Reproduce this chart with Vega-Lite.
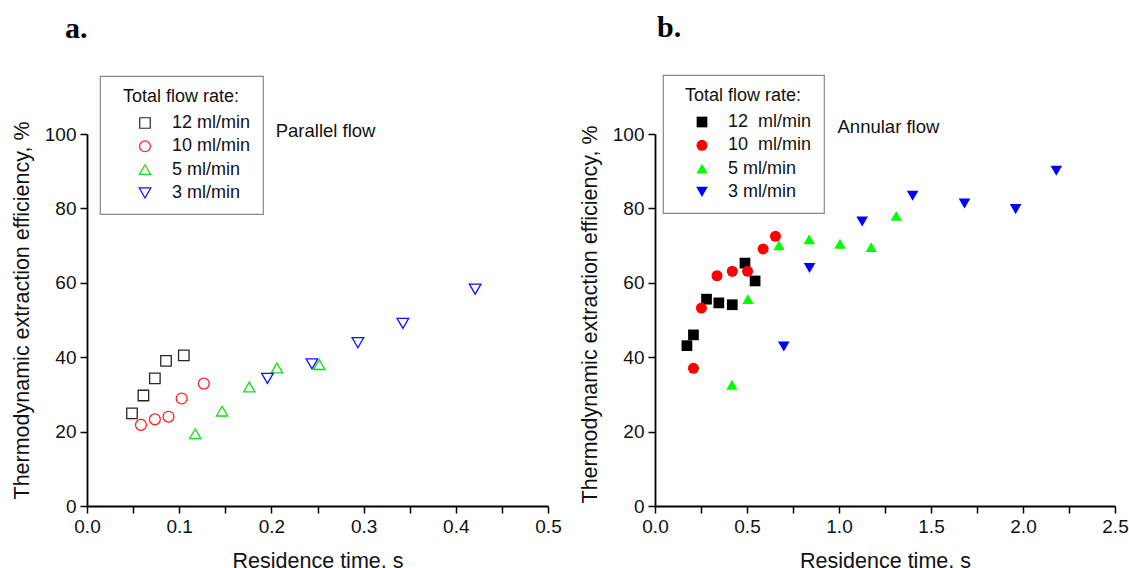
{
  "$schema": "https://vega.github.io/schema/vega-lite/v6.json",
  "padding": {"left": 11, "top": 13, "right": 0, "bottom": 0},
  "background": "white",
  "spacing": 17,
  "config": {
    "view": {"stroke": null},
    "font": "Liberation Sans",
    "axis": {
      "domainColor": "#000000", "domainWidth": 1.8,
      "tickColor": "#000000", "tickWidth": 1.5, "tickSize": 7,
      "labelFont": "Liberation Sans", "labelFontSize": 19, "labelColor": "#111111",
      "labelPadding": 4, "labelFlush": false, "labelOverlap": false, "labelBound": false,
      "titleFont": "Liberation Sans", "titleFontSize": 21.5, "titleFontWeight": "normal", "titleColor": "#111111",
      "grid": false
    },
    "legend": {
      "orient": "none", "strokeColor": "#888888", "strokeWidth": 1.2, "padding": 12,
      "titleFont": "Liberation Sans", "titleFontSize": 18, "titleFontWeight": "normal", "titleColor": "#111111",
      "titleAnchor": "middle",
      "labelFont": "Liberation Sans", "labelFontSize": 18, "labelColor": "#111111",
      "rowPadding": 5.3, "titlePadding": 8, "symbolStrokeWidth": 1.2, "labelLimit": 300
    },
    "title": {"font": "Liberation Serif", "fontSize": 30, "fontWeight": "bold", "color": "#000000", "anchor": "start", "frame": "group", "baseline": "alphabetic", "offset": 31}
  },
  "resolve": {
    "scale": {"x": "independent", "y": "independent", "color": "independent", "shape": "independent", "size": "independent"},
    "legend": {"color": "independent", "shape": "independent", "size": "independent"}
  },
  "datasets": {
    "parallel": [
      {"time": 0.0488, "eff": 24.9, "rate": "12 ml/min"},
      {"time": 0.0612, "eff": 29.7, "rate": "12 ml/min"},
      {"time": 0.0736, "eff": 34.3, "rate": "12 ml/min"},
      {"time": 0.0857, "eff": 39.0, "rate": "12 ml/min"},
      {"time": 0.105, "eff": 40.5, "rate": "12 ml/min"},
      {"time": 0.0585, "eff": 21.8, "rate": "10 ml/min"},
      {"time": 0.0736, "eff": 23.3, "rate": "10 ml/min"},
      {"time": 0.0884, "eff": 24.0, "rate": "10 ml/min"},
      {"time": 0.1027, "eff": 28.9, "rate": "10 ml/min"},
      {"time": 0.1267, "eff": 32.9, "rate": "10 ml/min"},
      {"time": 0.1174, "eff": 19.4, "rate": "5 ml/min"},
      {"time": 0.1465, "eff": 25.5, "rate": "5 ml/min"},
      {"time": 0.176, "eff": 32.0, "rate": "5 ml/min"},
      {"time": 0.206, "eff": 37.1, "rate": "5 ml/min"},
      {"time": 0.252, "eff": 38.0, "rate": "5 ml/min"},
      {"time": 0.1957, "eff": 34.3, "rate": "3 ml/min"},
      {"time": 0.244, "eff": 38.2, "rate": "3 ml/min"},
      {"time": 0.2938, "eff": 43.9, "rate": "3 ml/min"},
      {"time": 0.3426, "eff": 49.1, "rate": "3 ml/min"},
      {"time": 0.421, "eff": 58.3, "rate": "3 ml/min"}
    ],
    "annular": [
      {"time": 0.1735, "eff": 43.1, "rate": "12\u00a0 ml/min"},
      {"time": 0.209, "eff": 46.0, "rate": "12\u00a0 ml/min"},
      {"time": 0.28, "eff": 55.6, "rate": "12\u00a0 ml/min"},
      {"time": 0.347, "eff": 54.6, "rate": "12\u00a0 ml/min"},
      {"time": 0.42, "eff": 54.1, "rate": "12\u00a0 ml/min"},
      {"time": 0.489, "eff": 65.3, "rate": "12\u00a0 ml/min"},
      {"time": 0.544, "eff": 60.5, "rate": "12\u00a0 ml/min"},
      {"time": 0.209, "eff": 37.0, "rate": "10\u00a0 ml/min"},
      {"time": 0.2524, "eff": 53.2, "rate": "10\u00a0 ml/min"},
      {"time": 0.337, "eff": 61.9, "rate": "10\u00a0 ml/min"},
      {"time": 0.42, "eff": 63.1, "rate": "10\u00a0 ml/min"},
      {"time": 0.503, "eff": 63.1, "rate": "10\u00a0 ml/min"},
      {"time": 0.5875, "eff": 69.1, "rate": "10\u00a0 ml/min"},
      {"time": 0.6546, "eff": 72.5, "rate": "10\u00a0 ml/min"},
      {"time": 0.418, "eff": 32.6, "rate": "5 ml/min"},
      {"time": 0.505, "eff": 55.6, "rate": "5 ml/min"},
      {"time": 0.674, "eff": 70.1, "rate": "5 ml/min"},
      {"time": 0.838, "eff": 71.7, "rate": "5 ml/min"},
      {"time": 1.0055, "eff": 70.5, "rate": "5 ml/min"},
      {"time": 1.175, "eff": 69.6, "rate": "5 ml/min"},
      {"time": 1.311, "eff": 78.0, "rate": "5 ml/min"},
      {"time": 0.7, "eff": 42.9, "rate": "3 ml/min"},
      {"time": 0.84, "eff": 64.0, "rate": "3 ml/min"},
      {"time": 1.126, "eff": 76.5, "rate": "3 ml/min"},
      {"time": 1.4, "eff": 83.4, "rate": "3 ml/min"},
      {"time": 1.682, "eff": 81.3, "rate": "3 ml/min"},
      {"time": 1.96, "eff": 79.8, "rate": "3 ml/min"},
      {"time": 2.181, "eff": 90.1, "rate": "3 ml/min"}
    ]
  },
  "hconcat": [
    {
      "width": 461, "height": 372,
      "title": {"text": "a.", "dx": -22},
      "layer": [
        {
          "data": {"name": "parallel"},
          "mark": {"type": "point", "filled": false, "strokeWidth": 1.3, "opacity": 1},
          "encoding": {
            "x": {"field": "time", "type": "quantitative", "title": "Residence time, s",
              "scale": {"domain": [0, 0.5], "nice": false, "zero": false},
              "axis": {"values": [0, 0.05, 0.1, 0.15, 0.2, 0.25, 0.3, 0.35, 0.4, 0.45, 0.5],
                "labelExpr": "round(datum.value*100) % 10 == 0 ? format(datum.value, '.1f') : ''", "titlePadding": 14}},
            "y": {"field": "eff", "type": "quantitative", "title": "Thermodynamic extraction efficiency, %",
              "scale": {"domain": [0, 100], "nice": false},
              "axis": {"values": [0, 10, 20, 30, 40, 50, 60, 70, 80, 90, 100],
                "labelExpr": "datum.value % 20 == 0 ? datum.label : ''", "titlePadding": 11, "titleY": 176}},
            "color": {"field": "rate", "type": "nominal", "title": "Total flow rate:",
              "scale": {"domain": ["12 ml/min", "10 ml/min", "5 ml/min", "3 ml/min"], "range": ["#262626", "#ff2020", "#10e010", "#1010ff"]},
              "legend": {"legendX": 13, "legendY": -58, "symbolOffset": 24, "labelOffset": 18}},
            "shape": {"field": "rate", "type": "nominal", "title": "Total flow rate:",
              "scale": {"domain": ["12 ml/min", "10 ml/min", "5 ml/min", "3 ml/min"], "range": ["square", "circle", "triangle-up", "triangle-down"]}},
            "size": {"field": "rate", "type": "nominal", "title": "Total flow rate:",
              "scale": {"domain": ["12 ml/min", "10 ml/min", "5 ml/min", "3 ml/min"], "range": [110, 135, 185, 185]}}
          }
        },
        {
          "data": {"values": [{}]},
          "mark": {"type": "text", "text": "Parallel flow", "align": "left", "baseline": "middle", "fontSize": 18.5, "color": "#111111", "font": "Liberation Sans"},
          "encoding": {"x": {"datum": 0.2047}, "y": {"datum": 100.8}}
        }
      ]
    },
    {
      "width": 460, "height": 372,
      "title": {"text": "b.", "dx": 2},
      "layer": [
        {
          "data": {"name": "annular"},
          "mark": {"type": "point", "filled": true, "opacity": 1},
          "encoding": {
            "x": {"field": "time", "type": "quantitative", "title": "Residence time, s",
              "scale": {"domain": [0, 2.5], "nice": false, "zero": false},
              "axis": {"values": [0, 0.25, 0.5, 0.75, 1, 1.25, 1.5, 1.75, 2, 2.25, 2.5],
                "labelExpr": "round(datum.value*100) % 50 == 0 ? format(datum.value, '.1f') : ''", "titlePadding": 14}},
            "y": {"field": "eff", "type": "quantitative", "title": "Thermodynamic extraction efficiency, %",
              "scale": {"domain": [0, 100], "nice": false},
              "axis": {"values": [0, 10, 20, 30, 40, 50, 60, 70, 80, 90, 100],
                "labelExpr": "datum.value % 20 == 0 ? datum.label : ''", "titlePadding": 11, "titleY": 180}},
            "color": {"field": "rate", "type": "nominal", "title": "Total flow rate:",
              "scale": {"domain": ["12\u00a0 ml/min", "10\u00a0 ml/min", "5 ml/min", "3 ml/min"], "range": ["#000000", "#ff0000", "#00ff00", "#0000ff"]},
              "legend": {"legendX": 8, "legendY": -59, "symbolOffset": 18, "labelOffset": 17}},
            "shape": {"field": "rate", "type": "nominal", "title": "Total flow rate:",
              "scale": {"domain": ["12\u00a0 ml/min", "10\u00a0 ml/min", "5 ml/min", "3 ml/min"], "range": ["square", "circle", "triangle-up", "triangle-down"]}},
            "size": {"field": "rate", "type": "nominal", "title": "Total flow rate:",
              "scale": {"domain": ["12\u00a0 ml/min", "10\u00a0 ml/min", "5 ml/min", "3 ml/min"], "range": [115, 135, 195, 195]}}
          }
        },
        {
          "data": {"values": [{}]},
          "mark": {"type": "text", "text": "Annular flow", "align": "left", "baseline": "middle", "fontSize": 18.5, "color": "#111111", "font": "Liberation Sans"},
          "encoding": {"x": {"datum": 0.992}, "y": {"datum": 101.9}}
        }
      ]
    }
  ]
}
